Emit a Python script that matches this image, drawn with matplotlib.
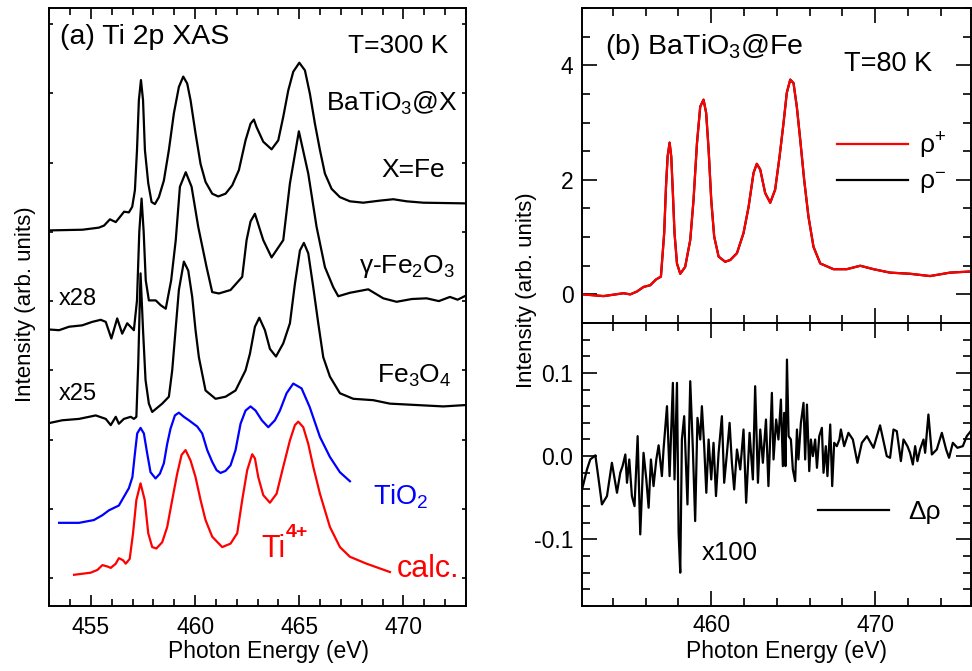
import numpy as np
import matplotlib
matplotlib.use('Agg')
import matplotlib.pyplot as plt
from matplotlib.ticker import MultipleLocator

plt.rcParams['font.family'] = ['Liberation Sans', 'DejaVu Sans']
plt.rcParams['mathtext.default'] = 'regular'

# ---- panel (a): Ti 2p XAS, stacked (arb. offset units) ----
e_fe = [452.99, 454.59, 455.38, 455.63, 455.91, 456.19, 456.38, 456.59, 456.82, 456.98,
        457.11, 457.21, 457.30, 457.40, 457.50, 457.59, 457.75, 457.91, 458.07, 458.26,
        458.50, 458.74, 458.98, 459.22, 459.43, 459.62, 459.78, 460.02, 460.26, 460.50,
        460.82, 461.11, 461.46, 461.78, 462.10, 462.42, 462.66, 462.82, 462.95, 463.27,
        463.67, 463.99, 464.23, 464.47, 464.71, 465.00, 465.27, 465.51, 465.75, 465.99,
        466.23, 466.55, 466.95, 467.43, 468.07, 468.87, 469.51, 470.15, 470.95, 473.0]
i_fe = [5.02, 5.03, 5.06, 5.09, 5.18, 5.14, 5.21, 5.29, 5.28, 5.36,
        5.60, 6.18, 6.90, 7.19, 6.90, 6.18, 5.70, 5.43, 5.40, 5.50,
        5.74, 6.18, 6.71, 7.09, 7.24, 7.14, 6.90, 6.42, 5.98, 5.72,
        5.55, 5.51, 5.55, 5.67, 5.89, 6.32, 6.56, 6.62, 6.51, 6.30,
        6.19, 6.32, 6.66, 7.04, 7.31, 7.44, 7.33, 6.99, 6.56, 6.18,
        5.84, 5.62, 5.50, 5.44, 5.42, 5.45, 5.47, 5.44, 5.42, 5.41]

e_g = [453.0, 453.47, 453.95, 454.58, 455.06, 455.47, 455.71, 455.98, 456.26, 456.50,
       456.74, 457.06, 457.21, 457.32, 457.43, 457.53, 457.63, 457.78, 458.11, 458.35,
       458.59, 458.85, 459.07, 459.27, 459.55, 459.83, 460.15, 460.55, 460.82, 461.14,
       461.70, 462.26, 462.47, 462.66, 462.87, 463.27, 463.67, 464.23, 464.55, 464.98,
       465.43, 465.83, 466.23, 466.63, 466.87, 467.43, 468.31, 469.03, 469.67, 470.40,
       471.11, 471.70, 472.23, 472.60, 473.0]
i_g = [3.59, 3.58, 3.63, 3.65, 3.70, 3.73, 3.70, 3.46, 3.75, 3.53,
       3.68, 3.58, 4.01, 5.00, 5.48, 5.00, 4.30, 4.01, 4.01, 3.94,
       3.89, 4.30, 4.88, 5.65, 5.86, 5.65, 5.07, 4.49, 4.13, 4.11,
       4.16, 4.35, 4.88, 5.15, 5.26, 4.88, 4.63, 4.88, 5.70, 6.45,
       5.84, 5.07, 4.49, 4.20, 4.07, 4.12, 4.17, 4.04, 3.99, 4.03,
       4.04, 4.00, 4.06, 4.02, 4.08]

e_fe3o4 = [453.0, 453.62, 454.43, 455.23, 455.71, 455.95, 456.19, 456.34, 456.58, 456.91,
           457.06, 457.18, 457.27, 457.38, 457.50, 457.62, 457.78, 457.94, 458.42, 458.74,
           458.90, 459.06, 459.22, 459.46, 459.67, 459.86, 460.02, 460.18, 460.50, 460.98,
           461.46, 461.94, 462.42, 462.63, 462.87, 463.08, 463.35, 463.59, 463.88, 464.23,
           464.55, 464.79, 465.03, 465.22, 465.43, 465.67, 465.91, 466.15, 466.47, 466.95,
           467.59, 468.55, 469.35, 470.63, 471.91, 473.0]
i_fe3o4 = [2.24, 2.28, 2.30, 2.35, 2.30, 2.21, 2.33, 2.23, 2.30, 2.33,
           2.30, 2.33, 3.10, 4.40, 3.58, 2.86, 2.52, 2.40, 2.52, 2.62,
           3.00, 3.58, 4.16, 4.57, 4.44, 4.06, 3.58, 3.19, 2.71, 2.59,
           2.62, 2.71, 3.00, 3.24, 3.63, 3.76, 3.58, 3.31, 3.20, 3.39,
           3.68, 4.25, 4.73, 4.84, 4.69, 4.20, 3.68, 3.19, 2.91, 2.67,
           2.59, 2.57, 2.52, 2.50, 2.48, 2.50]

e_tio2 = [453.47, 454.43, 455.14, 455.55, 455.86, 456.34, 456.82, 456.99, 457.11, 457.22,
          457.38, 457.54, 457.70, 457.86, 458.10, 458.31, 458.50, 458.66, 458.82, 459.03,
          459.22, 459.46, 459.70, 460.10, 460.34, 460.58, 460.82, 461.03, 461.22, 461.46,
          461.70, 461.94, 462.18, 462.42, 462.66, 462.90, 463.20, 463.51, 463.83, 464.07,
          464.39, 464.71, 465.11, 465.50, 465.99, 466.47, 466.95, 467.43]
i_tio2 = [0.80, 0.80, 0.84, 0.91, 0.98, 1.05, 1.30, 1.46, 1.80, 2.09,
          2.17, 2.09, 1.80, 1.53, 1.44, 1.51, 1.66, 1.94, 2.16, 2.35,
          2.39, 2.33, 2.28, 2.19, 2.09, 1.85, 1.68, 1.56, 1.52, 1.55,
          1.63, 1.85, 2.23, 2.42, 2.48, 2.42, 2.28, 2.18, 2.28, 2.42,
          2.67, 2.81, 2.74, 2.47, 2.04, 1.75, 1.53, 1.40]

e_calc = [454.19, 454.98, 455.31, 455.55, 455.79, 455.95, 456.19, 456.34, 456.54, 456.67,
          456.86, 457.02, 457.18, 457.38, 457.58, 457.75, 457.94, 458.14, 458.42, 458.66,
          458.90, 459.14, 459.35, 459.54, 459.78, 460.02, 460.26, 460.50, 460.82, 461.30,
          461.70, 462.02, 462.26, 462.50, 462.74, 462.87, 463.03, 463.27, 463.59, 463.91,
          464.23, 464.55, 464.79, 464.95, 465.19, 465.43, 465.67, 465.99, 466.47, 466.95,
          467.43, 468.23, 469.35]
i_calc = [0.05, 0.08, 0.12, 0.19, 0.17, 0.15, 0.21, 0.29, 0.26, 0.21,
          0.28, 0.65, 1.13, 1.37, 1.13, 0.65, 0.45, 0.43, 0.52, 0.74,
          1.13, 1.51, 1.78, 1.85, 1.70, 1.46, 1.13, 0.84, 0.60, 0.45,
          0.50, 0.65, 1.13, 1.56, 1.79, 1.73, 1.46, 1.20, 1.09, 1.22,
          1.61, 1.99, 2.21, 2.26, 2.18, 1.94, 1.61, 1.22, 0.74, 0.45,
          0.31, 0.21, 0.09]

# ---- panel (b) top: rho+ / rho- at 80 K ----
e_b = [452.18, 453.43, 454.65, 455.06, 455.47, 455.87, 456.28, 456.63, 456.93, 457.13,
       457.24, 457.34, 457.46, 457.56, 457.66, 457.76, 457.91, 458.11, 458.41, 458.72,
       458.92, 459.13, 459.33, 459.53, 459.69, 459.84, 460.00, 460.18, 460.45, 460.85,
       461.16, 461.57, 461.97, 462.28, 462.58, 462.78, 462.99, 463.29, 463.60, 463.90,
       464.17, 464.41, 464.61, 464.82, 465.02, 465.22, 465.43, 465.67, 465.93, 466.24,
       466.65, 467.46, 468.27, 469.09, 469.90, 470.91, 472.13, 473.35, 474.57, 475.85]
rho_plus = [0.00, -0.03, 0.02, 0.00, 0.05, 0.13, 0.16, 0.26, 0.31, 1.07,
            1.88, 2.41, 2.65, 2.41, 1.77, 1.07, 0.54, 0.36, 0.48, 0.95,
            1.65, 2.64, 3.28, 3.40, 3.17, 2.53, 1.65, 1.01, 0.66, 0.57,
            0.60, 0.72, 1.07, 1.53, 2.12, 2.28, 2.18, 1.77, 1.60, 1.83,
            2.41, 2.99, 3.52, 3.75, 3.69, 3.28, 2.70, 2.00, 1.36, 0.83,
            0.54, 0.44, 0.44, 0.50, 0.44, 0.38, 0.36, 0.32, 0.38, 0.40]
rho_minus = rho_plus

# ---- panel (b) bottom: difference x100 ----
e_d = [452.12, 452.42, 452.62, 452.93, 453.13, 453.33, 453.64, 453.94, 454.25, 454.45,
       454.59, 454.76, 454.86, 455.00, 455.16, 455.32, 455.51, 455.67, 455.87, 456.04,
       456.18, 456.32, 456.48, 456.65, 456.79, 456.99, 457.09, 457.30, 457.46, 457.66,
       457.76, 457.91, 458.01, 458.11, 458.21, 458.35, 458.48, 458.55, 458.72, 458.88,
       459.02, 459.16, 459.33, 459.43, 459.57, 459.70, 459.84, 460.00, 460.14, 460.29,
       460.45, 460.65, 460.79, 460.96, 461.12, 461.26, 461.40, 461.57, 461.77, 461.97,
       462.13, 462.34, 462.54, 462.68, 462.85, 462.99, 463.15, 463.34, 463.49, 463.70,
       463.80, 463.96, 464.10, 464.25, 464.37, 464.45, 464.53, 464.62, 464.72, 464.86,
       464.98, 465.12, 465.23, 465.32, 465.47, 465.63, 465.73, 465.84, 465.98, 466.08,
       466.20, 466.34, 466.45, 466.59, 466.75, 466.85, 466.99, 467.09, 467.26, 467.38,
       467.50, 467.66, 467.82, 467.91, 468.11, 468.37, 468.64, 468.92, 469.19, 469.50,
       469.90, 470.30, 470.71, 470.91, 471.12, 471.32, 471.57, 471.73, 471.97, 472.13,
       472.30, 472.44, 472.58, 472.74, 472.95, 473.05, 473.25, 473.46, 473.76, 474.07,
       474.33, 474.51, 474.74, 475.02, 475.35, 475.59, 475.91]
d_rho = [-0.040, -0.016, -0.004, 0.001, -0.028, -0.058, -0.048, -0.008, -0.044, -0.020,
         -0.012, 0.002, -0.032, -0.004, -0.048, -0.060, 0.024, -0.094, 0.004, -0.028,
         -0.062, -0.004, -0.036, -0.004, 0.013, -0.024, 0.008, 0.060, -0.024, 0.088,
         -0.028, 0.088, -0.092, -0.140, 0.020, 0.048, -0.020, -0.058, 0.090, 0.008,
         -0.078, 0.046, 0.020, 0.060, 0.012, -0.044, 0.020, -0.028, 0.016, -0.048,
         0.004, 0.048, -0.032, 0.004, 0.040, -0.008, -0.040, 0.008, -0.016, 0.032,
         -0.056, 0.028, -0.028, 0.084, -0.032, 0.032, -0.008, 0.044, -0.036, 0.076,
         -0.004, 0.044, 0.020, 0.068, -0.012, 0.052, -0.012, 0.116, 0.024, 0.020,
         -0.016, -0.030, 0.032, -0.004, 0.040, 0.064, -0.004, 0.062, -0.018, 0.020,
         0.000, 0.020, -0.014, 0.024, 0.034, -0.020, 0.012, -0.024, 0.038, -0.036,
         0.016, 0.012, 0.020, 0.032, 0.012, 0.028, 0.020, -0.008, 0.016, 0.024,
         0.010, 0.037, 0.000, -0.002, 0.032, 0.030, -0.006, 0.020, 0.012, 0.004,
         -0.010, 0.012, -0.006, 0.008, 0.020, 0.004, 0.050, 0.002, 0.008, 0.028,
         0.008, -0.002, 0.016, 0.010, 0.012, 0.024, 0.032]

LW = 1.6
fig = plt.figure(figsize=(9.72, 6.71), dpi=100)

ax_a = fig.add_axes([0.0507, 0.0969, 0.4287, 0.8912])
ax_b1 = fig.add_axes([0.5985, 0.5186, 0.4005, 0.4694])
ax_b2 = fig.add_axes([0.5985, 0.0969, 0.4005, 0.4218], sharex=ax_b1)

for ax in (ax_a, ax_b1, ax_b2):
    for s in ax.spines.values():
        s.set_linewidth(1.4)

# panel (a)
ax_a.plot(e_fe, i_fe, color='black', lw=LW)
ax_a.plot(e_g, i_g, color='black', lw=LW)
ax_a.plot(e_fe3o4, i_fe3o4, color='black', lw=LW)
ax_a.plot(e_tio2, i_tio2, color='blue', lw=LW)
ax_a.plot(e_calc, i_calc, color='red', lw=LW)
ax_a.set_xlim(453, 473)
ax_a.set_ylim(-0.4, 8.23)
ax_a.xaxis.set_major_locator(MultipleLocator(5))
ax_a.xaxis.set_minor_locator(MultipleLocator(1))
ax_a.yaxis.set_major_locator(MultipleLocator(1))
ax_a.tick_params(axis='x', which='both', direction='in', top=True, labelsize=16.5, pad=7, width=1.2)
ax_a.tick_params(axis='x', which='major', length=8)
ax_a.tick_params(axis='x', which='minor', length=5)
ax_a.tick_params(axis='y', which='major', direction='in', right=True, length=3, width=1.2,
                 labelleft=False)

T = ax_a.transAxes
ax_a.text(0.026, 0.940, '(a) Ti 2p XAS', transform=T, fontsize=20.5, va='baseline')
ax_a.text(0.957, 0.925, 'T=300 K', transform=T, fontsize=19, ha='right', va='baseline')
ax_a.text(0.981, 0.828, 'BaTiO$_3$@X', transform=T, fontsize=19, ha='right', va='baseline')
ax_a.text(0.950, 0.718, 'X=Fe', transform=T, fontsize=19, ha='right', va='baseline')
ax_a.text(0.974, 0.557, 'γ-Fe$_2$O$_3$', transform=T, fontsize=19, ha='right', va='baseline')
ax_a.text(0.022, 0.503, 'x28', transform=T, fontsize=17, va='baseline')
ax_a.text(0.022, 0.344, 'x25', transform=T, fontsize=17, va='baseline')
ax_a.text(0.966, 0.373, 'Fe$_3$O$_4$', transform=T, fontsize=19, ha='right', va='baseline')
ax_a.text(0.778, 0.169, 'TiO$_2$', transform=T, fontsize=19.5, color='blue', va='baseline')
ax_a.text(0.510, 0.082, 'Ti', transform=T, fontsize=22, color='red', va='baseline')
ax_a.text(0.567, 0.116, '4+', transform=T, fontsize=14, color='red', fontweight='bold',
          va='baseline')
ax_a.text(0.984, 0.0485, 'calc.', transform=T, fontsize=22, color='red', ha='right', va='baseline')

# panel (b) top
ax_b1.plot(e_b, rho_minus, color='black', lw=LW, label='ρ$^{-}$')
ax_b1.plot(e_b, rho_plus, color='red', lw=LW, label='ρ$^{+}$')
ax_b1.set_ylim(-0.5, 5)
ax_b1.yaxis.set_major_locator(MultipleLocator(2))
ax_b1.yaxis.set_minor_locator(MultipleLocator(0.5))
h, l = ax_b1.get_legend_handles_labels()
ax_b1.legend(h[::-1], l[::-1], loc='center left', bbox_to_anchor=(0.655, 0.506), frameon=False,
             fontsize=19, handlelength=2.7, handletextpad=0.4, labelspacing=0.35,
             borderpad=0, borderaxespad=0)
ax_b1.text(0.060, 0.854, '(b) BaTiO$_3$@Fe', transform=ax_b1.transAxes, fontsize=20.5, va='baseline')
ax_b1.text(0.899, 0.801, 'T=80 K', transform=ax_b1.transAxes, fontsize=19.5, ha='right', va='baseline')

# panel (b) bottom
ax_b2.plot(e_d, d_rho, color='black', lw=LW, label='Δρ')
ax_b2.set_xlim(452.1, 475.85)
ax_b2.set_ylim(-0.18, 0.16)
ax_b2.xaxis.set_major_locator(MultipleLocator(10))
ax_b2.xaxis.set_minor_locator(MultipleLocator(2))
ax_b2.yaxis.set_major_locator(MultipleLocator(0.1))
ax_b2.yaxis.set_minor_locator(MultipleLocator(0.02))
ax_b2.yaxis.set_major_formatter(plt.FuncFormatter(lambda v, p: '%.1f' % v))
ax_b2.legend(loc='center left', bbox_to_anchor=(0.607, 0.332), frameon=False,
             fontsize=19, handlelength=2.7, handletextpad=0.7, borderpad=0, borderaxespad=0)
ax_b2.text(0.308, 0.163, 'x100', transform=ax_b2.transAxes, fontsize=18.5, va='baseline')

for ax in (ax_b1, ax_b2):
    ax.tick_params(which='both', direction='in', top=True, right=True, labelsize=16.5, width=1.2)
    ax.tick_params(which='major', length=11, pad=6)
    ax.tick_params(which='minor', length=6)
ax_b1.tick_params(axis='x', labelbottom=False)

fig.text(0.026, 0.547, 'Intensity (arb. units)', rotation=90, ha='center', va='center', fontsize=16)
fig.text(0.542, 0.567, 'Intensity (arb. units)', rotation=90, ha='center', va='center', fontsize=16)
fig.text(268 / 972, 0.0194, 'Photon Energy (eV)', ha='center', va='baseline', fontsize=16.5)
fig.text(786 / 972, 0.0194, 'Photon Energy (eV)', ha='center', va='baseline', fontsize=16.5)

fig.savefig('out.png', dpi=100)
